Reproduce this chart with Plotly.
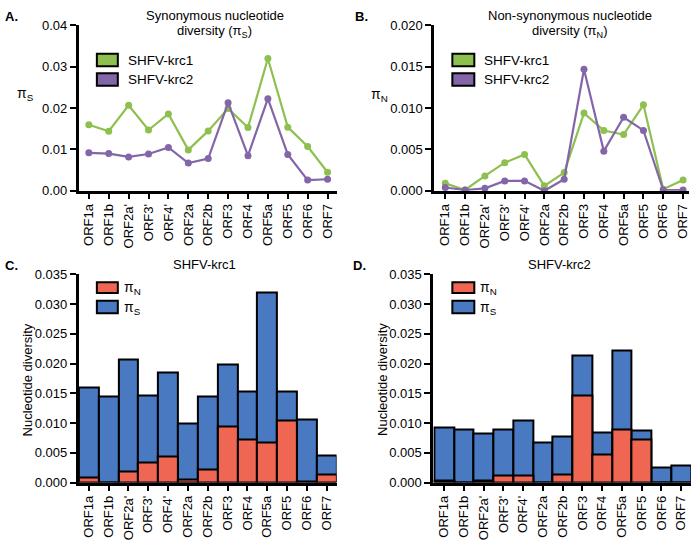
import plotly.graph_objects as go

orfs = ["ORF1a", "ORF1b", "ORF2a'", "ORF3'", "ORF4'", "ORF2a", "ORF2b",
        "ORF3", "ORF4", "ORF5a", "ORF5", "ORF6", "ORF7"]

pi_s_krc1 = [0.0160, 0.0144, 0.0207, 0.0147, 0.0186, 0.0099, 0.0145,
             0.0199, 0.0153, 0.0320, 0.0154, 0.0107, 0.0045]
pi_s_krc2 = [0.0092, 0.0090, 0.0082, 0.0089, 0.0105, 0.0067, 0.0078,
             0.0213, 0.0085, 0.0223, 0.0088, 0.0026, 0.0028]
pi_n_krc1 = [0.0009, 0.0001, 0.0018, 0.0034, 0.0044, 0.0006, 0.0022,
             0.0094, 0.0073, 0.0068, 0.0104, 0.0002, 0.0013]
pi_n_krc2 = [0.0004, 0.0001, 0.0003, 0.0012, 0.0012, 0.0000, 0.0014,
             0.0147, 0.0048, 0.0089, 0.0073, 0.0001, 0.0001]

GREEN = "#8DC04F"
PURPLE = "#8266A8"
RED = "#EF6652"
BLUE = "#4879C1"
FONT = "Liberation Sans, Arial, sans-serif"
W, H = 697, 546

def px(x):
    return x / W

def py(y):
    return 1 - y / H

fig = go.Figure()

# Panel A
fig.add_trace(go.Scatter(x=orfs, y=pi_s_krc1, mode="lines+markers", line=dict(color=GREEN, width=2.2),
                         marker=dict(size=7, color=GREEN), xaxis="x", yaxis="y", cliponaxis=False, showlegend=False))
fig.add_trace(go.Scatter(x=orfs, y=pi_s_krc2, mode="lines+markers", line=dict(color=PURPLE, width=2.2),
                         marker=dict(size=7, color=PURPLE), xaxis="x", yaxis="y", cliponaxis=False, showlegend=False))
# Panel B
fig.add_trace(go.Scatter(x=orfs, y=pi_n_krc1, mode="lines+markers", line=dict(color=GREEN, width=2.2),
                         marker=dict(size=7, color=GREEN), xaxis="x2", yaxis="y2", cliponaxis=False, showlegend=False))
fig.add_trace(go.Scatter(x=orfs, y=pi_n_krc2, mode="lines+markers", line=dict(color=PURPLE, width=2.2),
                         marker=dict(size=7, color=PURPLE), xaxis="x2", yaxis="y2", cliponaxis=False, showlegend=False))
# Panel C
fig.add_trace(go.Bar(x=orfs, y=pi_s_krc1, width=1, marker=dict(color=BLUE, line=dict(color="black", width=2)),
                     xaxis="x3", yaxis="y3", showlegend=False))
fig.add_trace(go.Bar(x=orfs, y=pi_n_krc1, width=1, marker=dict(color=RED, line=dict(color="black", width=2)),
                     xaxis="x3", yaxis="y3", showlegend=False))
# Panel D
fig.add_trace(go.Bar(x=orfs, y=pi_s_krc2, width=1, marker=dict(color=BLUE, line=dict(color="black", width=2)),
                     xaxis="x4", yaxis="y4", showlegend=False))
fig.add_trace(go.Bar(x=orfs, y=pi_n_krc2, width=1, marker=dict(color=RED, line=dict(color="black", width=2)),
                     xaxis="x4", yaxis="y4", showlegend=False))

tickfont = dict(family=FONT, size=13, color="black")

def xax(domain, rng, anchor):
    return dict(domain=domain, range=rng, anchor=anchor, showline=True, linewidth=3, linecolor="black",
                ticks="outside", ticklen=5, tickwidth=2, tickcolor="black", tickangle=-90,
                tickfont=tickfont, showgrid=False, zeroline=False, fixedrange=True)

def yax(domain, rng, dtick, fmt, anchor):
    return dict(domain=domain, range=rng, anchor=anchor, showline=True, linewidth=3, linecolor="black",
                ticks="outside", ticklen=6, tickwidth=2, tickcolor="black", dtick=dtick, tick0=0,
                tickformat=fmt, tickfont=tickfont, showgrid=False, zeroline=False, fixedrange=True)

top = [py(189), py(19)]
bot = [py(489), py(275)]

fig.update_layout(
    width=W, height=H, margin=dict(l=0, r=0, t=0, b=0),
    paper_bgcolor="white", plot_bgcolor="white", barmode="overlay", bargap=0,
    font=dict(family=FONT, size=13, color="black"),
    xaxis=xax([px(79), px(337)], [-0.5, 12.45], "y"),
    yaxis=yax(top, [0, 0.04], 0.01, ".2f", "x"),
    xaxis2=xax([px(435), px(690)], [-0.55, 12.3], "y2"),
    yaxis2=yax(top, [0, 0.02], 0.005, ".3f", "x2"),
    xaxis3=xax([px(79), px(337)], [-0.5, 12.5], "y3"),
    yaxis3=yax(bot, [0, 0.035], 0.005, ".3f", "x3"),
    xaxis4=xax([px(434), px(692)], [-0.55, 12.5], "y4"),
    yaxis4=yax(bot, [0, 0.035], 0.005, ".3f", "x4"),
)

ann = []
def text(x, y, s, size=13, bold=False, xanchor="center", angle=0):
    ann.append(dict(x=px(x), y=py(y), xref="paper", yref="paper", text=("<b>%s</b>" % s) if bold else s,
                    showarrow=False, xanchor=xanchor, yanchor="middle", textangle=angle,
                    font=dict(family=FONT, size=size, color="black")))

# panel letters
text(3, 10, "A.", 13, True, "left")
text(354, 10, "B.", 13, True, "left")
text(3, 266, "C.", 13, True, "left")
text(352, 266, "D.", 13, True, "left")
# titles
text(215, 9, "Synonymous nucleotide", 13)
text(215, 25, "diversity (π<sub>S</sub>)", 13)
text(571, 9, "Non-synonymous nucleotide", 13)
text(571, 25, "diversity (π<sub>N</sub>)", 13)
text(205, 265, "SHFV-krc1", 13)
text(560, 265, "SHFV-krc2", 13)
# y titles
text(26, 89, "π<sub>S</sub>", 14)
text(380, 90, "π<sub>N</sub>", 14)
text(28, 383, "Nucleotide diversity", 13, angle=-90)
text(383, 383, "Nucleotide diversity", 13, angle=-90)

shapes = []
def legbox(x0, y0, x1, y1, color):
    shapes.append(dict(type="rect", xref="paper", yref="paper", x0=px(x0), x1=px(x1), y0=py(y1), y1=py(y0),
                       fillcolor=color, line=dict(color="black", width=2)))

# legend A
legbox(97, 48, 118, 61, GREEN); text(126, 54.5, "SHFV-krc1", 13.5, xanchor="left")
legbox(97, 68, 118, 81, PURPLE); text(126, 74.5, "SHFV-krc2", 13.5, xanchor="left")
# legend B
legbox(453, 48, 475, 61, GREEN); text(483, 54.5, "SHFV-krc1", 13.5, xanchor="left")
legbox(453, 68, 475, 81, PURPLE); text(483, 74.5, "SHFV-krc2", 13.5, xanchor="left")
# legend C
legbox(97, 283, 118, 294, RED); text(122, 289, "π<sub>N</sub>", 14, xanchor="left")
legbox(97, 302, 118, 315, BLUE); text(122, 309, "π<sub>S</sub>", 14, xanchor="left")
# legend D
legbox(453, 283, 475, 294, RED); text(479, 289, "π<sub>N</sub>", 14, xanchor="left")
legbox(453, 302, 475, 315, BLUE); text(479, 309, "π<sub>S</sub>", 14, xanchor="left")

fig.update_layout(annotations=ann, shapes=shapes)
fig.write_html("out.html", config={"displayModeBar": False},
               post_script="document.body.style.margin='0';document.body.style.overflow='hidden';")
